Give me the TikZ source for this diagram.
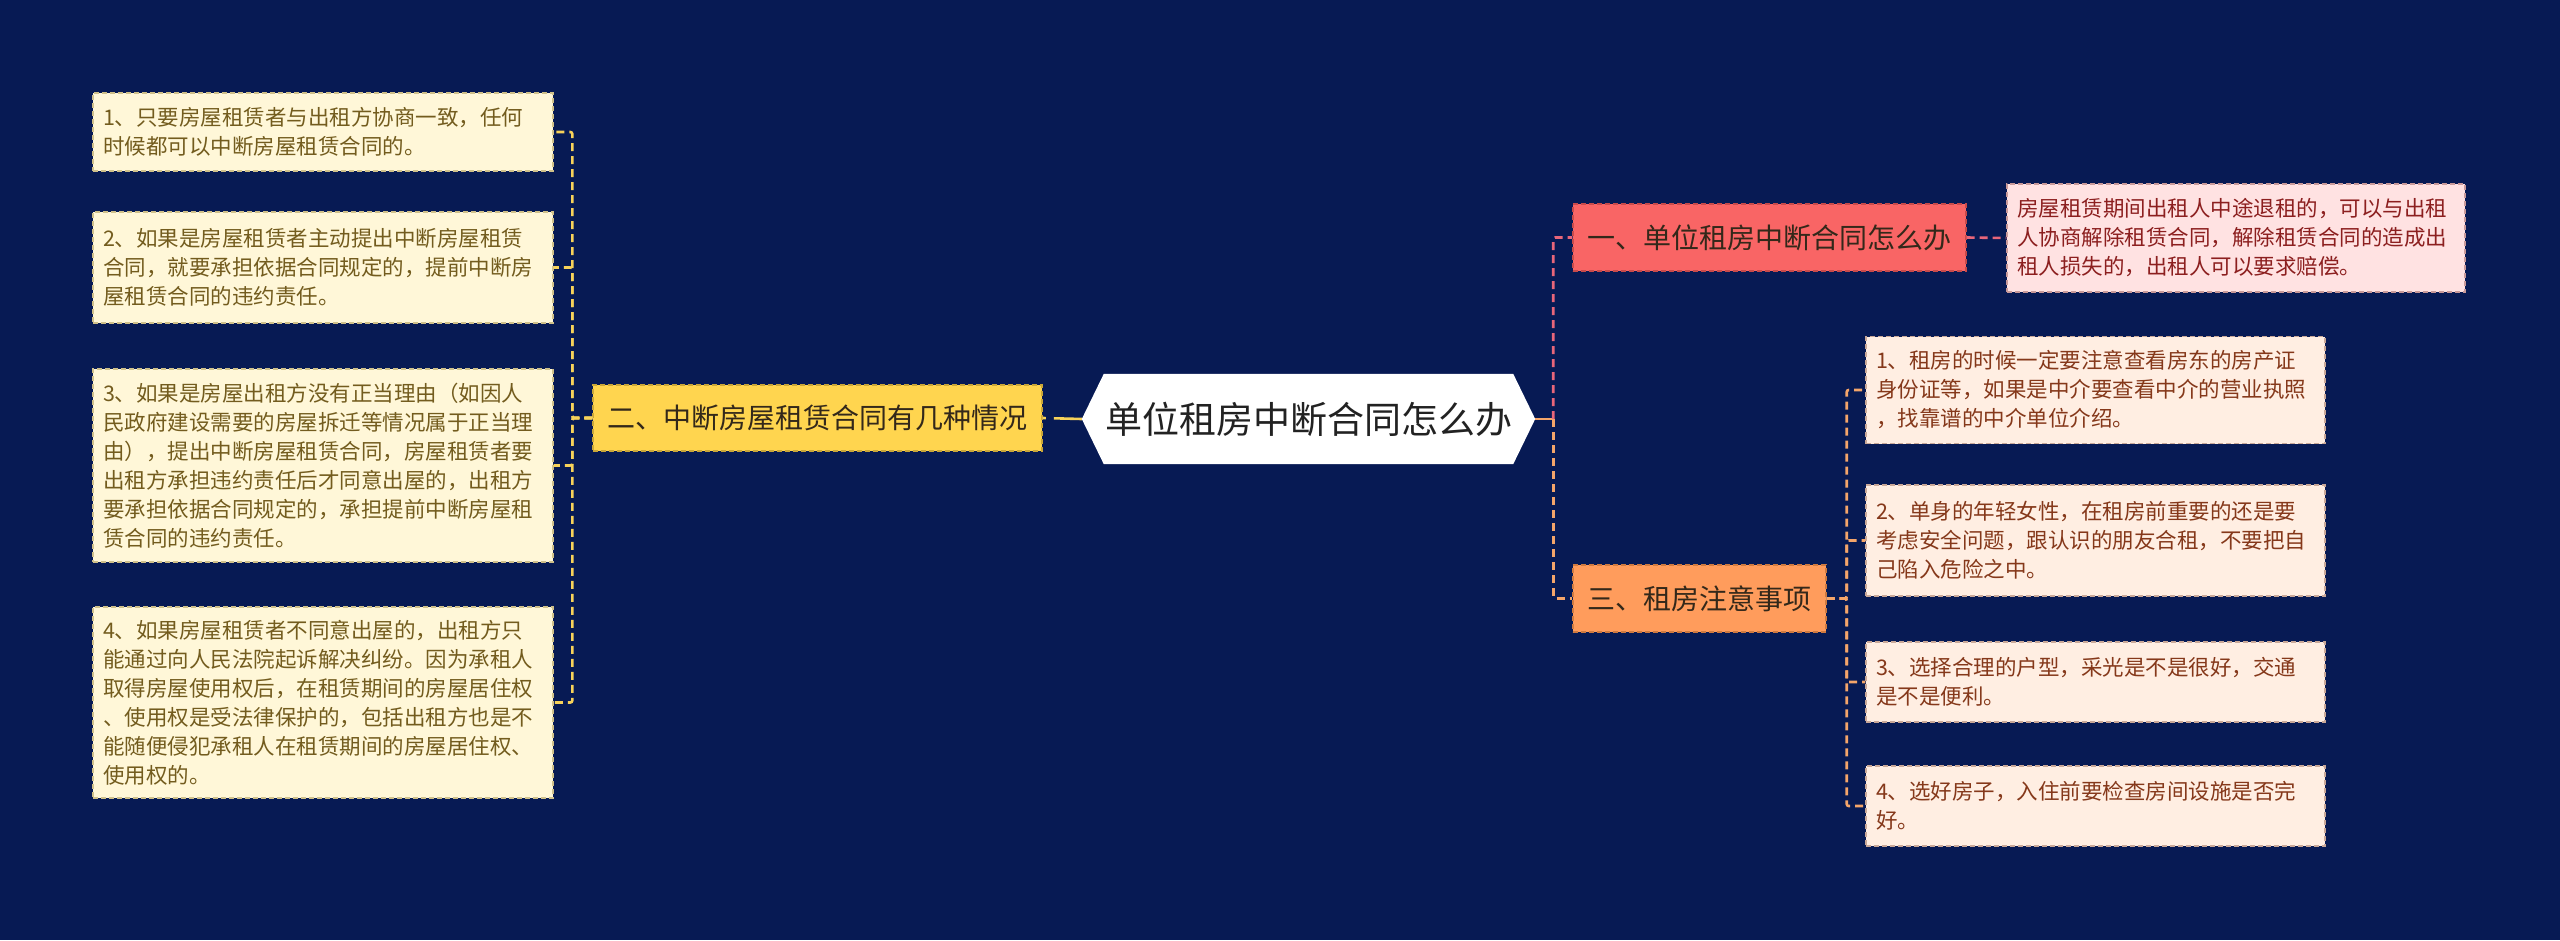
\documentclass[tikz,border=0pt]{standalone}
\usepackage{fontspec}
\setmainfont{Noto Sans CJK SC}
\usetikzlibrary{backgrounds}
\definecolor{bg}{HTML}{071A54}
\definecolor{cText}{HTML}{222222}
\definecolor{yel}{HTML}{FFD54F}
\definecolor{yelb}{HTML}{C9A638}
\definecolor{redf}{HTML}{F96565}
\definecolor{redb}{HTML}{C84A4A}
\definecolor{orf}{HTML}{FF9C5C}
\definecolor{orb}{HTML}{CF7A40}
\definecolor{lfL}{HTML}{FFF7D8}
\definecolor{lbL}{HTML}{CFC08A}
\definecolor{ltL}{HTML}{735C1E}
\definecolor{lfR}{HTML}{FFEEE2}
\definecolor{lbR}{HTML}{C9A898}
\definecolor{ltR}{HTML}{85381A}
\definecolor{lfP}{HTML}{FFE2E2}
\definecolor{lbP}{HTML}{C99A9A}
\definecolor{ltP}{HTML}{8C1F1F}
\definecolor{mainT}{HTML}{33281A}
\definecolor{yline}{HTML}{F7D25A}
\definecolor{rline}{HTML}{E8667A}
\definecolor{oline}{HTML}{F4A56A}
\tikzset{
  conn/.style={line width=2.6pt},
  dsh/.style={dash pattern=on 8pt off 5pt},
  bdr/.style={line width=1.4pt, dash pattern=on 5pt off 3pt},
  centerbox/.style={minimum width=453pt, minimum height=90pt, inner sep=0pt,
    font=\fontsize{37}{41}\selectfont, text=cText},
  mainbox/.style={bdr, inner sep=0pt, font=\fontsize{28}{32}\selectfont, text=mainT},
  leafbase/.style={bdr, inner xsep=10pt, inner ysep=0pt, align=left,
    font=\fontsize{21.5}{29}\selectfont},
  leafL/.style={leafbase, text width=440pt, fill=lfL, draw=lbL, text=ltL},
  leafR/.style={leafbase, text width=439pt, fill=lfR, draw=lbR, text=ltR},
  leafP/.style={leafbase, text width=438pt, fill=lfP, draw=lbP, text=ltP},
}
\begin{document}
\begin{tikzpicture}[x=1pt,y=-1pt]
\begin{scope}[on background layer]
\fill[bg] (0,0) rectangle (2560,940);
\end{scope}
\useasboundingbox (0,0) rectangle (2560,940);

% central
\node[centerbox] (c) at (1308.5,419) {单位租房中断合同怎么办};
\begin{scope}[on background layer]
\fill[white] (c.west) -- ([xshift=22pt]c.north west) -- ([xshift=-22pt]c.north east)
  -- (c.east) -- ([xshift=-22pt]c.south east) -- ([xshift=22pt]c.south west) -- cycle;
\end{scope}

% main branches
\node[mainbox, fill=yel, draw=yelb, minimum width=449pt, minimum height=66pt] (y) at (817.5,418) {二、中断房屋租赁合同有几种情况};
\node[mainbox, fill=redf, draw=redb, minimum width=393pt, minimum height=67pt] (r) at (1769.5,237.5) {一、单位租房中断合同怎么办};
\node[mainbox, fill=orf, draw=orb, minimum width=253pt, minimum height=67pt] (o) at (1699.5,598.5) {三、租房注意事项};

% left leaves
\node[leafL, minimum height=78pt] (L1) at (323,132) {1、只要房屋租赁者与出租方协商一致，任何\\时候都可以中断房屋租赁合同的。};
\node[leafL, minimum height=111pt] (L2) at (323,267.5) {2、如果是房屋租赁者主动提出中断房屋租赁\\合同，就要承担依据合同规定的，提前中断房\\屋租赁合同的违约责任。};
\node[leafL, minimum height=193pt] (L3) at (323,465.5) {3、如果是房屋出租方没有正当理由（如因人\\民政府建设需要的房屋拆迁等情况属于正当理\\由），提出中断房屋租赁合同，房屋租赁者要\\出租方承担违约责任后才同意出屋的，出租方\\要承担依据合同规定的，承担提前中断房屋租\\赁合同的违约责任。};
\node[leafL, minimum height=191pt] (L4) at (323,702.5) {4、如果房屋租赁者不同意出屋的，出租方只\\能通过向人民法院起诉解决纠纷。因为承租人\\取得房屋使用权后，在租赁期间的房屋居住权\\、使用权是受法律保护的，包括出租方也是不\\能随便侵犯承租人在租赁期间的房屋居住权、\\使用权的。};

% red leaf
\node[leafP, minimum height=108pt] (P1) at (2236,238) {房屋租赁期间出租人中途退租的，可以与出租\\人协商解除租赁合同，解除租赁合同的造成出\\租人损失的，出租人可以要求赔偿。};

% right leaves
\node[leafR, minimum height=107pt] (R1) at (2095.5,390) {1、租房的时候一定要注意查看房东的房产证\\身份证等，如果是中介要查看中介的营业执照\\，找靠谱的中介单位介绍。};
\node[leafR, minimum height=111pt] (R2) at (2095.5,540.5) {2、单身的年轻女性，在租房前重要的还是要\\考虑安全问题，跟认识的朋友合租，不要把自\\己陷入危险之中。};
\node[leafR, minimum height=80pt] (R3) at (2095.5,682) {3、选择合理的户型，采光是不是很好，交通\\是不是便利。};
\node[leafR, minimum height=80pt] (R4) at (2095.5,806) {4、选好房子，入住前要检查房间设施是否完\\好。};

% connectors
\draw[conn, yline, dash pattern=on 28pt off 8pt] (c.west) -- (y.east);
\foreach \n in {L1,L2,L3,L4}
  \draw[conn, yline, dsh, rounded corners=2pt] (y.west) -- ++(-20,0) |- (\n.east);
\draw[conn, oline] (c.east) -- ++(18,0) coordinate (rj);
\draw[conn, rline, dsh, rounded corners=2pt] (rj) |- (r.west);
\draw[conn, oline, dsh, rounded corners=2pt] (rj) |- (o.west);
\draw[conn, rline, dsh] (r.east) -- (P1.west);
\foreach \n in {R1,R2,R3,R4}
  \draw[conn, oline, dsh, rounded corners=2pt] (o.east) -- ++(20,0) |- (\n.west);
\end{tikzpicture}
\end{document}
